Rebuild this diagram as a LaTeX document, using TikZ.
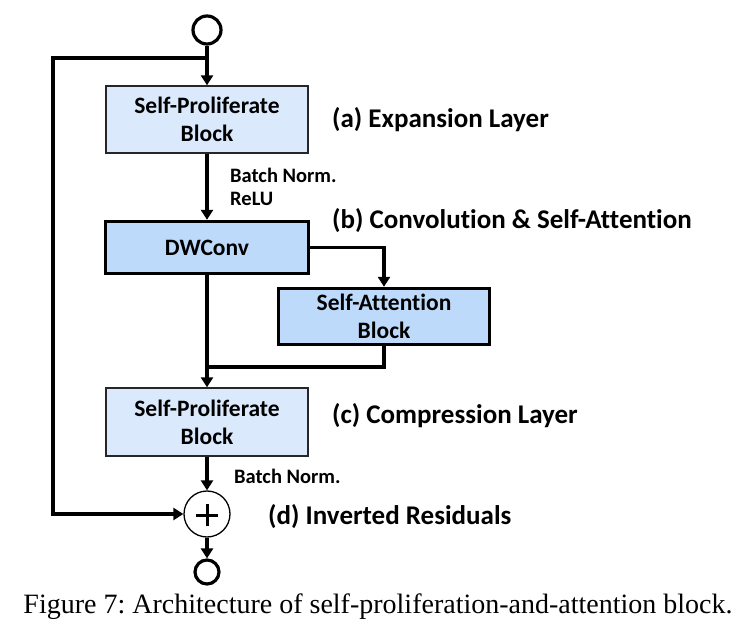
\documentclass[tikz,border=0pt]{standalone}
\usepackage{fontspec}
\setmainfont{Carlito}[Ligatures=NoCommon]
\newfontfamily\capfont{Liberation Serif}
\usetikzlibrary{arrows.meta,calc}
\definecolor{lightbox}{HTML}{DAEAFC}
\definecolor{darkbox}{HTML}{BDDAFB}
\tikzset{
  arr/.style={line width=3.4pt, -{Triangle[length=10pt,width=12pt]}},
  conn/.style={line width=3.4pt},
  blktext/.style={font=\bfseries\fontsize{23.5}{28}\selectfont, align=center, inner sep=0pt},
  lightblk/.style={blktext, draw=black!85, line width=1.4pt, fill=lightbox},
  darkblk/.style={blktext, draw=black, line width=3.4pt, fill=darkbox},
  lbl/.style={font=\bfseries\fontsize{27}{30}\selectfont, anchor=west, inner sep=0pt},
  small/.style={font=\bfseries\fontsize{20.5}{24}\selectfont, anchor=west, inner sep=0pt},
  io/.style={circle, draw=black, line width=3.2pt, fill=white, inner sep=0pt},
}
\begin{document}
\begin{tikzpicture}[x=1pt,y=-1pt]
\useasboundingbox (0,0) rectangle (755,636);
\node[io, minimum size=28pt] (in) at (207,30) {};
\node[lightblk, minimum width=202pt, minimum height=67pt] (sp1) at (207,119.5) {Self-Proliferate\\Block};
\node[darkblk, minimum width=203pt, minimum height=52pt] (dw) at (207,247.5) {DWConv};
\node[darkblk, minimum width=211pt, minimum height=56pt] (sa) at (384,316.5) {Self-Attention\\Block};
\node[lightblk, minimum width=202pt, minimum height=68pt] (sp2) at (207,422) {Self-Proliferate\\Block};
\node[circle, draw=black, line width=1.3pt, fill=white, minimum size=46pt, inner sep=0pt] (plus) at (207,514) {};
\draw[line width=3pt] ($(plus.center)+(-11,1)$) -- ($(plus.center)+(11,1)$);
\draw[line width=3pt] ($(plus.center)+(0,-10)$) -- ($(plus.center)+(0,12)$);
\node[io, minimum size=24pt] (out) at (207,572) {};

\node[lbl] (la) at (332,120) {(a) Expansion Layer};
\node[lbl] (lb) at (332,221) {(b) Convolution \& Self-Attention};
\node[lbl] (lc) at (332,416) {(c) Compression Layer};
\node[lbl] (ld) at (268,517) {(d) Inverted Residuals};
\node[small] (bn1) at (230,175) {Batch Norm.};
\node[small] (relu) at (230,199) {ReLU};
\node[small] (bn2) at (234,476) {Batch Norm.};

\coordinate (split) at (207,58);
\coordinate (lefttop) at (53,58);
\coordinate (merge) at (207,367);

\draw[arr] (in) -- (sp1);
\draw[arr] (split) -- (lefttop) |- (plus.west);
\draw[arr] (sp1) -- (dw);
\draw[arr] (dw.east) -| (sa.north);
\draw[conn] (dw.south) -- (merge);
\draw[conn] (sa.south) |- (merge);
\draw[arr] (merge) -- (sp2.north);
\draw[arr] (sp2) -- (plus);
\draw[arr] (plus) -- (out);

\node[font=\capfont\fontsize{28}{32}\selectfont, inner sep=0pt] (cap) at (378,607) {\frenchspacing Figure 7: Architecture of self-proliferation-and-attention block.};
\end{tikzpicture}
\end{document}
